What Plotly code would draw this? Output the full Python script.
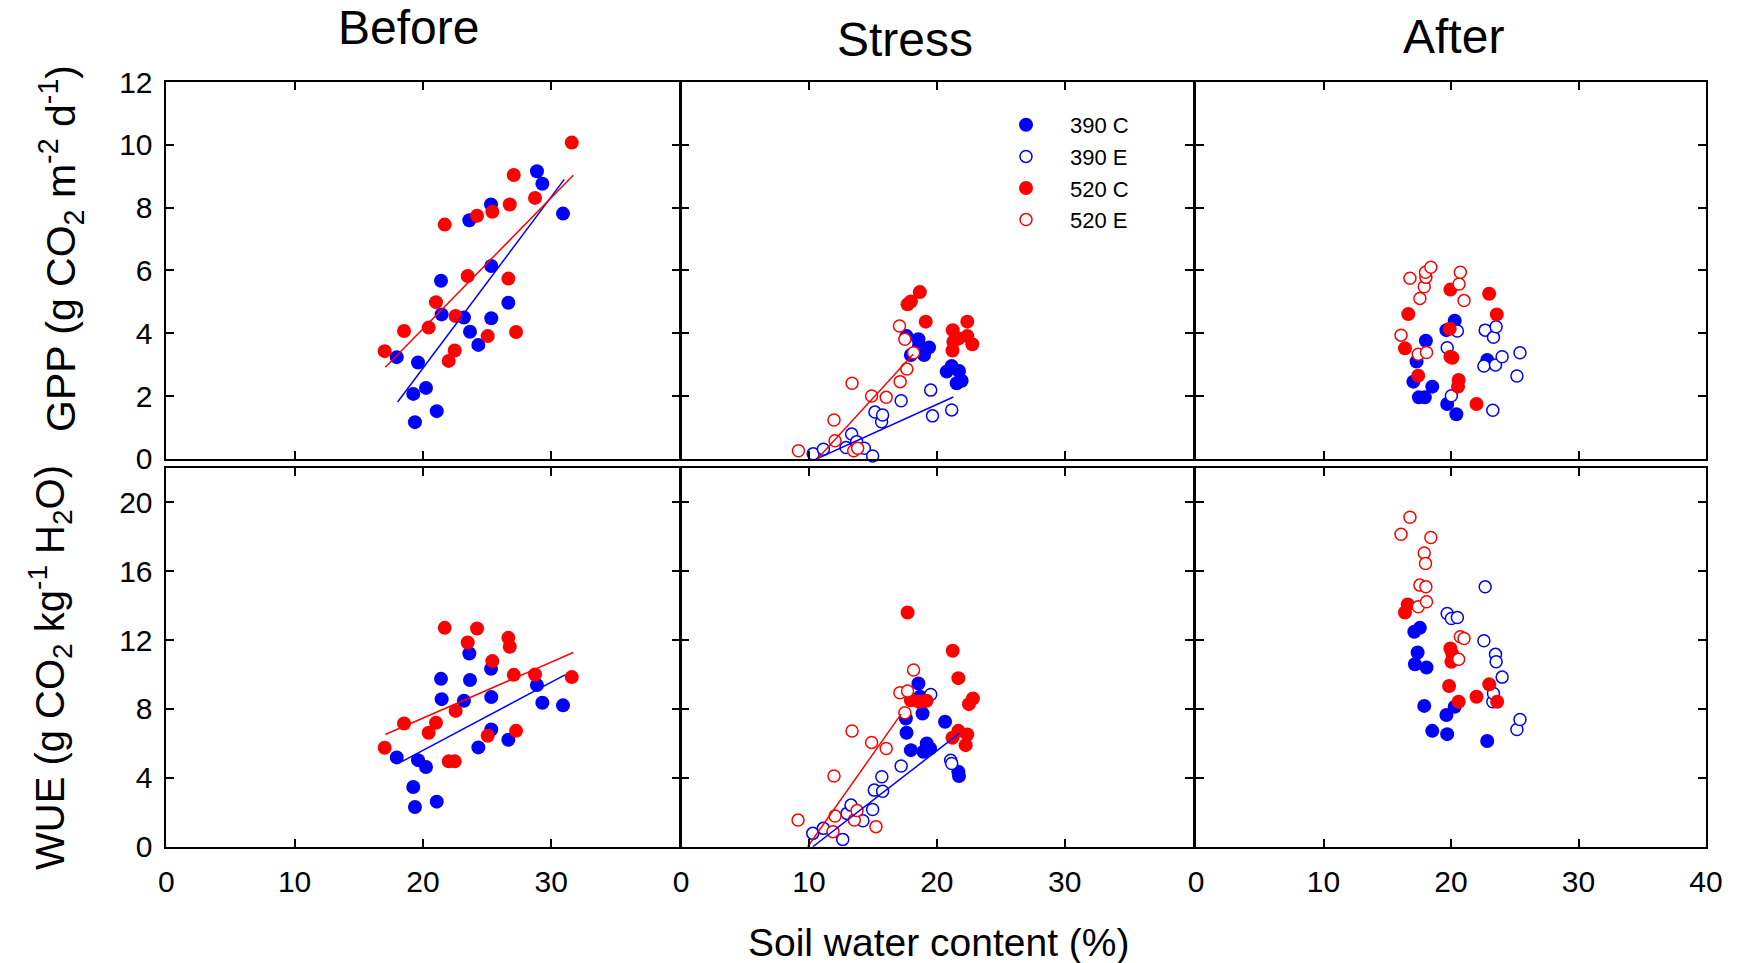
import plotly.graph_objects as go

W, H = 1738, 963
FONT = "Liberation Sans, Arial, Helvetica, sans-serif"
BLUE = "#0000FF"
RED = "#FF0000"

# ---------------- data (soil water content %, GPP, WUE) ----------------
# Before: same plots in both rows
BEFORE_390C_SWC = [17.96, 19.25, 19.38, 19.62, 20.24, 21.08, 21.41, 21.46, 23.20, 23.62,
                   23.67, 24.32, 25.31, 25.33, 25.33, 26.66, 28.89, 29.31, 30.92]
BEFORE_390C_GPP = [3.24, 2.07, 1.17, 3.07, 2.26, 1.52, 5.67, 4.60, 4.50, 7.60,
                   4.05, 3.63, 8.10, 6.14, 4.48, 4.97, 9.16, 8.76, 7.81]
BEFORE_390C_WUE = [5.19, 3.47, 2.31, 5.03, 4.63, 2.62, 9.75, 8.57, 8.48, 11.22,
                   9.68, 5.77, 10.33, 8.69, 6.81, 6.21, 9.39, 8.36, 8.21]
BEFORE_520C_SWC = [17.02, 18.53, 20.45, 21.02, 21.70, 22.01, 22.48, 22.55, 23.49, 24.22,
                   25.05, 25.41, 26.66, 26.77, 27.08, 27.26, 28.74, 31.60]
BEFORE_520C_GPP = [3.43, 4.07, 4.18, 4.99, 7.46, 3.12, 3.45, 4.55, 5.82, 7.74,
                   3.91, 7.87, 5.74, 8.10, 9.04, 4.04, 8.31, 10.07]
BEFORE_520C_WUE = [5.75, 7.16, 6.62, 7.20, 12.71, 4.96, 4.96, 7.89, 11.86, 12.67,
                   6.45, 10.78, 12.13, 11.61, 9.98, 6.73, 10.00, 9.85]

# Stress - GPP
STRESS_GPP_390C_X = [17.63, 17.97, 18.56, 18.60, 19.00, 19.39, 20.77, 21.16, 21.55, 21.73, 21.94]
STRESS_GPP_390C_Y = [3.91, 3.31, 3.81, 3.60, 3.31, 3.55, 2.78, 2.96, 2.41, 2.80, 2.49]
STRESS_GPP_390E_X = [10.33, 11.13, 12.90, 13.34, 13.73, 14.33, 14.98, 15.16, 15.68, 15.76,
                     17.21, 19.52, 19.66, 21.16]
STRESS_GPP_390E_Y = [0.16, 0.31, 0.36, 0.79, 0.55, 0.34, 0.09, 1.49, 1.18, 1.40,
                     1.85, 2.19, 1.37, 1.56]
STRESS_GPP_520C_X = [17.71, 17.97, 18.67, 19.13, 21.22, 21.24, 21.29, 21.68, 22.38, 22.38, 22.77]
STRESS_GPP_520C_Y = [4.92, 5.01, 5.31, 4.37, 3.45, 4.10, 3.73, 3.83, 4.37, 3.91, 3.65]
STRESS_GPP_520E_X = [9.18, 11.96, 12.04, 13.37, 13.50, 13.81, 14.90, 16.04, 17.08, 17.13,
                     17.50, 17.65, 18.18]
STRESS_GPP_520E_Y = [0.26, 1.24, 0.58, 2.41, 0.26, 0.34, 2.00, 1.96, 4.23, 2.46,
                     3.81, 2.86, 3.38]

# Stress - WUE
STRESS_WUE_390C_X = [17.58, 17.63, 17.97, 18.56, 18.69, 18.88, 18.95, 19.21, 19.47, 20.64, 21.68, 21.73]
STRESS_WUE_390C_Y = [7.45, 6.62, 5.61, 9.48, 8.71, 7.74, 5.52, 6.00, 5.71, 7.26, 4.36, 4.11]
STRESS_WUE_390E_X = [10.30, 11.13, 12.64, 12.98, 13.29, 14.22, 14.98, 15.11, 15.70, 15.76,
                     17.21, 19.52, 21.08, 21.16]
STRESS_WUE_390E_Y = [0.78, 1.07, 0.43, 1.94, 2.42, 1.51, 2.17, 3.29, 4.07, 3.22,
                     4.69, 8.84, 5.03, 4.84]
STRESS_WUE_520C_X = [17.71, 17.97, 18.61, 19.19, 21.22, 21.24, 21.68, 21.68, 22.25, 22.38, 22.51, 22.82]
STRESS_WUE_520C_Y = [13.60, 8.51, 8.42, 8.48, 6.33, 11.38, 9.79, 6.73, 5.90, 6.52, 8.28, 8.61]
STRESS_WUE_520E_X = [9.15, 11.88, 11.96, 12.04, 13.37, 13.55, 13.76, 14.90, 15.24, 16.04,
                     17.11, 17.50, 17.71, 18.18]
STRESS_WUE_520E_Y = [1.55, 0.88, 4.11, 1.79, 6.72, 1.55, 2.10, 6.06, 1.17, 5.71,
                     8.94, 7.78, 9.04, 10.26]

# After - GPP
AFTER_GPP_390C_X = [17.05, 17.30, 17.48, 17.95, 18.03, 18.53, 19.64, 19.70, 20.29, 20.42, 22.84]
AFTER_GPP_390C_Y = [2.46, 3.10, 1.96, 1.96, 3.76, 2.30, 4.10, 1.75, 4.40, 1.42, 3.15]
AFTER_GPP_390E_X = [19.70, 20.03, 20.50, 22.58, 22.68, 23.28, 23.33, 23.49, 23.54, 24.01, 25.17, 25.41]
AFTER_GPP_390E_Y = [3.54, 2.01, 4.07, 2.96, 4.10, 1.55, 3.87, 2.99, 4.21, 3.25, 2.64, 3.38]
AFTER_GPP_520C_X = [16.39, 16.65, 17.43, 19.90, 19.95, 19.95, 20.11, 20.55, 20.60, 22.00, 22.99, 23.59]
AFTER_GPP_520C_Y = [3.52, 4.61, 2.65, 4.14, 5.39, 3.25, 3.22, 2.30, 2.51, 1.75, 5.26, 4.60]
AFTER_GPP_520E_X = [16.08, 16.78, 17.43, 17.56, 17.90, 18.03, 18.00, 18.08, 18.42, 20.63, 20.73, 21.02]
AFTER_GPP_520E_Y = [3.94, 5.75, 3.33, 5.11, 5.48, 5.78, 5.94, 3.39, 6.10, 5.57, 5.94, 5.04]

# After - WUE
AFTER_WUE_390C_X = [17.12, 17.17, 17.38, 17.56, 17.90, 18.08, 18.53, 19.64, 19.70, 20.29, 22.84]
AFTER_WUE_390C_Y = [12.48, 10.60, 11.28, 12.71, 8.18, 10.41, 6.73, 7.65, 6.54, 8.13, 6.14]
AFTER_WUE_390E_X = [19.70, 20.03, 20.50, 22.58, 22.68, 23.28, 23.33, 23.49, 23.54, 24.01, 25.17, 25.41]
AFTER_WUE_390E_Y = [13.54, 13.25, 13.31, 11.96, 15.09, 8.42, 8.90, 11.17, 10.74, 9.85, 6.81, 7.39]
AFTER_WUE_520C_X = [16.39, 16.61, 19.85, 19.95, 20.03, 20.10, 20.60, 22.00, 23.00, 23.62]
AFTER_WUE_520C_Y = [13.60, 14.07, 9.33, 11.51, 10.74, 11.20, 8.42, 8.71, 9.43, 8.42]
AFTER_WUE_520E_X = [16.08, 16.78, 17.43, 17.56, 17.90, 18.00, 18.03, 18.08, 18.42, 20.60, 20.73, 21.02]
AFTER_WUE_520E_Y = [18.14, 19.13, 13.93, 15.19, 17.06, 16.44, 15.09, 14.22, 17.95, 10.89, 12.19, 12.09]

# Regression lines (end points)
FIT_BEFORE_GPP_390C = ([18.03, 31.02], [1.81, 8.90])
FIT_BEFORE_GPP_520C = ([17.07, 31.72], [2.92, 9.03])
FIT_BEFORE_WUE_390C = ([18.35, 31.08], [4.94, 9.98])
FIT_BEFORE_WUE_520C = ([17.07, 31.72], [6.52, 11.28])
FIT_STRESS_GPP_390E = ([10.60, 21.29], [0.0, 1.97])
FIT_STRESS_GPP_520E = ([10.65, 18.15], [0.0, 3.33])
FIT_STRESS_WUE_390E = ([10.30, 21.75], [0.0, 6.58])
FIT_STRESS_WUE_520E = ([9.90, 17.20], [0.0, 7.70])

COLUMN_TITLES = ["Before", "Stress", "After"]
GROUPS = ["390 C", "390 E", "520 C", "520 E"]
X_TICKS = [0, 10, 20, 30, 40]
GPP_TICKS = [0, 2, 4, 6, 8, 10, 12]
WUE_TICKS = [0, 4, 8, 12, 16, 20]

# ---------------- styling helpers ----------------
STYLE = {
    "390 C": dict(color=BLUE, filled=True),
    "390 E": dict(color=BLUE, filled=False),
    "520 C": dict(color=RED, filled=True),
    "520 E": dict(color=RED, filled=False),
}


def marker(group):
    s = STYLE[group]
    if s["filled"]:
        return dict(symbol="circle", size=14, color=s["color"], line=dict(width=0))
    return dict(symbol="circle", size=12, color="white", line=dict(width=1.5, color=s["color"]))


fig = go.Figure()
shown = set()


def axname(prefix, ax):
    return prefix + ("" if ax == 1 else str(ax))


def add_pts(ax, group, xs, ys):
    show = group not in shown
    shown.add(group)
    fig.add_trace(go.Scatter(
        x=xs, y=ys, mode="markers", name=group, legendgroup=group,
        showlegend=show, marker=marker(group),
        xaxis=axname("x", ax), yaxis=axname("y", ax),
        cliponaxis=False,
    ))


def add_fit(ax, fit, color):
    fig.add_trace(go.Scatter(
        x=fit[0], y=fit[1], mode="lines", showlegend=False, hoverinfo="skip",
        line=dict(color=color, width=1.5),
        xaxis=axname("x", ax), yaxis=axname("y", ax),
    ))


# legend order first: stress GPP panel has all four groups
add_pts(2, "390 C", STRESS_GPP_390C_X, STRESS_GPP_390C_Y)
add_pts(2, "390 E", STRESS_GPP_390E_X, STRESS_GPP_390E_Y)
add_pts(2, "520 C", STRESS_GPP_520C_X, STRESS_GPP_520C_Y)
add_pts(2, "520 E", STRESS_GPP_520E_X, STRESS_GPP_520E_Y)

add_pts(1, "390 C", BEFORE_390C_SWC, BEFORE_390C_GPP)
add_pts(1, "520 C", BEFORE_520C_SWC, BEFORE_520C_GPP)
add_pts(4, "390 C", BEFORE_390C_SWC, BEFORE_390C_WUE)
add_pts(4, "520 C", BEFORE_520C_SWC, BEFORE_520C_WUE)

add_pts(5, "390 C", STRESS_WUE_390C_X, STRESS_WUE_390C_Y)
add_pts(5, "390 E", STRESS_WUE_390E_X, STRESS_WUE_390E_Y)
add_pts(5, "520 C", STRESS_WUE_520C_X, STRESS_WUE_520C_Y)
add_pts(5, "520 E", STRESS_WUE_520E_X, STRESS_WUE_520E_Y)

add_pts(3, "390 C", AFTER_GPP_390C_X, AFTER_GPP_390C_Y)
add_pts(3, "390 E", AFTER_GPP_390E_X, AFTER_GPP_390E_Y)
add_pts(3, "520 C", AFTER_GPP_520C_X, AFTER_GPP_520C_Y)
add_pts(3, "520 E", AFTER_GPP_520E_X, AFTER_GPP_520E_Y)

add_pts(6, "390 C", AFTER_WUE_390C_X, AFTER_WUE_390C_Y)
add_pts(6, "390 E", AFTER_WUE_390E_X, AFTER_WUE_390E_Y)
add_pts(6, "520 C", AFTER_WUE_520C_X, AFTER_WUE_520C_Y)
add_pts(6, "520 E", AFTER_WUE_520E_X, AFTER_WUE_520E_Y)

add_fit(1, FIT_BEFORE_GPP_390C, BLUE)
add_fit(1, FIT_BEFORE_GPP_520C, RED)
add_fit(4, FIT_BEFORE_WUE_390C, BLUE)
add_fit(4, FIT_BEFORE_WUE_520C, RED)
add_fit(2, FIT_STRESS_GPP_390E, BLUE)
add_fit(2, FIT_STRESS_GPP_520E, RED)
add_fit(5, FIT_STRESS_WUE_390E, BLUE)
add_fit(5, FIT_STRESS_WUE_520E, RED)

# ---------------- layout ----------------
# panel edges in pixels; left/middle overlap their frame lines, middle/right show a double line
col_px = [(166.3, 679.5), (681.0, 1192.7), (1196.0, 1706.0)]
row_px = [(82.0, 458.9), (467.8, 846.8)]


def xdom(c):
    return [col_px[c][0] / W, col_px[c][1] / W]


def ydom(r):
    return [1 - row_px[r][1] / H, 1 - row_px[r][0] / H]


axis_common = dict(
    showline=True, linecolor="black", linewidth=1.5, mirror="ticks",
    ticks="inside", ticklen=8, tickwidth=1.5, tickcolor="black",
    showgrid=False, zeroline=False, automargin=False,
    tickfont=dict(family=FONT, size=30, color="black"),
)

layout = dict(
    width=W, height=H,
    margin=dict(l=0, r=0, t=0, b=0, pad=0, autoexpand=False),
    paper_bgcolor="white", plot_bgcolor="white",
    font=dict(family=FONT, color="black"),
    showlegend=True,
    legend=dict(
        x=(1026 - 44) / W, y=1 - 104 / H, xanchor="left", yanchor="top",
        font=dict(family=FONT, size=22, color="black"),
        bgcolor="rgba(0,0,0,0)", borderwidth=0, itemwidth=78,
        tracegroupgap=0,
    ),
)

for i in range(6):
    r, c = divmod(i, 3)
    n = i + 1
    xa = dict(axis_common)
    xa.update(domain=xdom(c), range=[0, 40], anchor=axname("y", n))
    if r == 1:
        vals = X_TICKS if c == 2 else X_TICKS[:-1]
        xa.update(tickvals=vals, ticktext=[str(v) for v in vals], showticklabels=True,
                  ticklabelstandoff=7)
    else:
        xa.update(tickvals=X_TICKS, showticklabels=False)
    ya = dict(axis_common)
    yt = GPP_TICKS if r == 0 else WUE_TICKS
    ya.update(domain=ydom(r), range=[0, 12] if r == 0 else [0, 22],
              anchor=axname("x", n), tickvals=yt,
              ticktext=[str(v) for v in yt], showticklabels=(c == 0),
              ticklabelstandoff=6)
    layout[axname("xaxis", n)] = xa
    layout[axname("yaxis", n)] = ya

fig.update_layout(**layout)

# ---------------- text annotations ----------------
title_pos = [(408, 28), (905, 39), (1453, 37)]
for txt, (px, py) in zip(COLUMN_TITLES, title_pos):
    fig.add_annotation(x=px / W, y=1 - py / H, xref="paper", yref="paper",
                       text=txt, showarrow=False, xanchor="center", yanchor="middle",
                       font=dict(family=FONT, size=48, color="black"))

fig.add_annotation(x=939 / W, y=1 - 942 / H, xref="paper", yref="paper",
                   text="Soil water content (%)", showarrow=False,
                   xanchor="center", yanchor="middle",
                   font=dict(family=FONT, size=39, color="black"))

fig.add_annotation(x=61 / W, y=1 - 249 / H, xref="paper", yref="paper",
                   text="GPP (g CO<sub>2</sub> m<sup>-2</sup> d<sup>-1</sup>)",
                   showarrow=False, textangle=-90, xanchor="center", yanchor="middle",
                   font=dict(family=FONT, size=41, color="black"))

fig.add_annotation(x=50 / W, y=1 - 668 / H, xref="paper", yref="paper",
                   text="WUE (g CO<sub>2</sub> kg<sup>-1</sup> H<sub>2</sub>O)",
                   showarrow=False, textangle=-90, xanchor="center", yanchor="middle",
                   font=dict(family=FONT, size=40, color="black"))

fig.write_html("out.html")
